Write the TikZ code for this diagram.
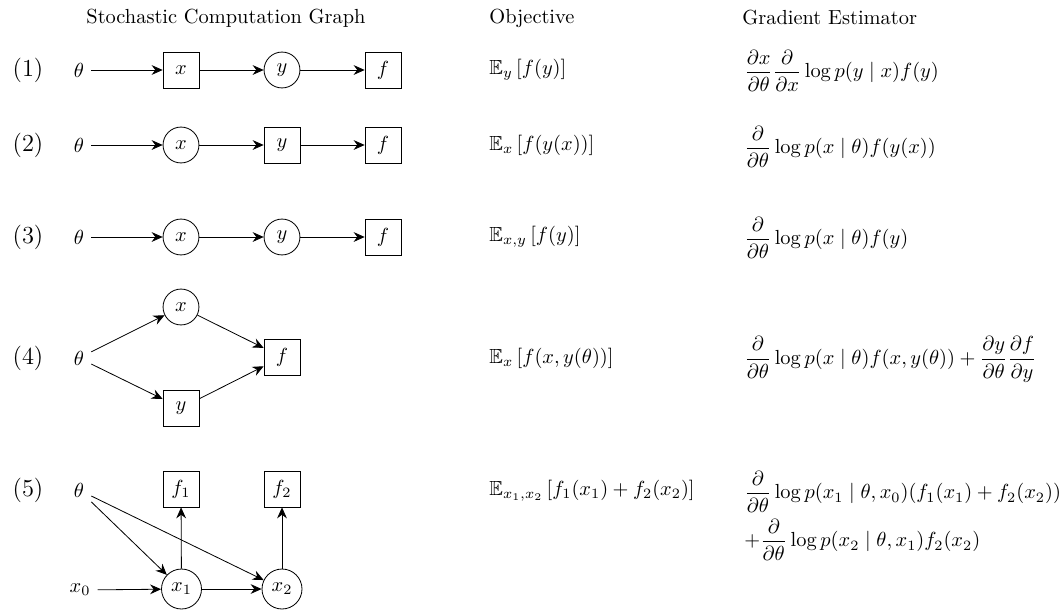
\documentclass[tikz,border=0pt]{standalone}
\usepackage{amsmath,amssymb}
\usetikzlibrary{arrows.meta}
\begin{document}
\begin{tikzpicture}[x=0.4902pt,y=-0.4902pt,
  box/.style={draw, minimum size=17.6pt, inner sep=0pt},
  rv/.style={draw, circle, minimum size=17.6pt, inner sep=0pt},
  rvb/.style={draw, circle, minimum size=19.6pt, inner sep=0pt},
  lbl/.style={font=\large},
  txt/.style={anchor=west, inner sep=0pt},
  arr/.style={-{Stealth[length=5.4pt,width=4.8pt,inset=1.8pt]}}]
\useasboundingbox (0,0) rectangle (1061,609);
% headers
\node[txt] (h1) at (86,18) {Stochastic Computation Graph};
\node[txt] (h2) at (489,18) {Objective};
\node[txt] (h3) at (742,18) {Gradient Estimator};
% row 1
\node[lbl] (l1) at (28,70) {(1)};
\node (t1) at (79,70) {$\theta$};
\node[box] (x1a) at (181,70) {$x$};
\node[rv] (y1a) at (282,70) {$y$};
\node[box] (f1a) at (383,70) {$f$};
\draw[arr] (t1) -- (x1a);
\draw[arr] (x1a) -- (y1a);
\draw[arr] (y1a) -- (f1a);
\node[txt] (o1) at (489,70) {$\mathbb{E}_y\left[f(y)\right]$};
\node[txt] (g1) at (744,71) {$\displaystyle\frac{\partial x}{\partial\theta}\frac{\partial}{\partial x}\log p(y\mid x)f(y)$};
% row 2
\node[lbl] (l2) at (28,145) {(2)};
\node (t2) at (79,145) {$\theta$};
\node[rv] (x2a) at (181,145) {$x$};
\node[box] (y2a) at (282,145) {$y$};
\node[box] (f2a) at (383,145) {$f$};
\draw[arr] (t2) -- (x2a);
\draw[arr] (x2a) -- (y2a);
\draw[arr] (y2a) -- (f2a);
\node[txt] (o2) at (489,145) {$\mathbb{E}_x\left[f(y(x))\right]$};
\node[txt] (g2) at (744,147) {$\displaystyle\frac{\partial}{\partial\theta}\log p(x\mid\theta)f(y(x))$};
% row 3
\node[lbl] (l3) at (28,237) {(3)};
\node (t3) at (79,237) {$\theta$};
\node[rv] (x3a) at (181,237) {$x$};
\node[rv] (y3a) at (282,237) {$y$};
\node[box] (f3a) at (383,237) {$f$};
\draw[arr] (t3) -- (x3a);
\draw[arr] (x3a) -- (y3a);
\draw[arr] (y3a) -- (f3a);
\node[txt] (o3) at (489,237) {$\mathbb{E}_{x,y}\left[f(y)\right]$};
\node[txt] (g3) at (744,238) {$\displaystyle\frac{\partial}{\partial\theta}\log p(x\mid\theta)f(y)$};
% row 4
\node[lbl] (l4) at (28,358) {(4)};
\node (t4) at (79,358) {$\theta$};
\node[rv] (x4a) at (181,307) {$x$};
\node[box] (y4a) at (181,408) {$y$};
\node[box] (f4a) at (282,357) {$f$};
\draw[arr] (t4) -- (x4a);
\draw[arr] (t4) -- (y4a);
\draw[arr] (x4a) -- (f4a);
\draw[arr] (y4a) -- (f4a);
\node[txt] (o4) at (489,358) {$\mathbb{E}_x\left[f(x,y(\theta))\right]$};
\node[txt] (g4) at (744,359) {$\displaystyle\frac{\partial}{\partial\theta}\log p(x\mid\theta)f(x,y(\theta))+\frac{\partial y}{\partial\theta}\frac{\partial f}{\partial y}$};
% row 5
\node[lbl] (l5) at (28,490) {(5)};
\node (t5) at (79,490) {$\theta$};
\node (x0) at (80,590) {$x_0$};
\node[box] (f15) at (181,489) {$f_1$};
\node[box] (f25) at (282,489) {$f_2$};
\node[rvb] (x15) at (181.5,589) {$x_1$};
\node[rvb] (x25) at (282,589) {$x_2$};
\draw[arr] (t5) -- (x15);
\draw[arr] (t5) -- (x25);
\draw[arr] (x0) -- (x15);
\draw[arr] (x15) -- (x25);
\draw[arr] (x15) -- (f15);
\draw[arr] (x25) -- (f25);
\node[txt] (o5) at (489,491) {$\mathbb{E}_{x_1,x_2}\left[f_1(x_1)+f_2(x_2)\right]$};
\node[txt] (g5a) at (744,492) {$\displaystyle\frac{\partial}{\partial\theta}\log p(x_1\mid\theta,x_0)(f_1(x_1)+f_2(x_2))$};
\node[txt] (g5b) at (744,540) {$\displaystyle+\frac{\partial}{\partial\theta}\log p(x_2\mid\theta,x_1)f_2(x_2)$};
\end{tikzpicture}
\end{document}
